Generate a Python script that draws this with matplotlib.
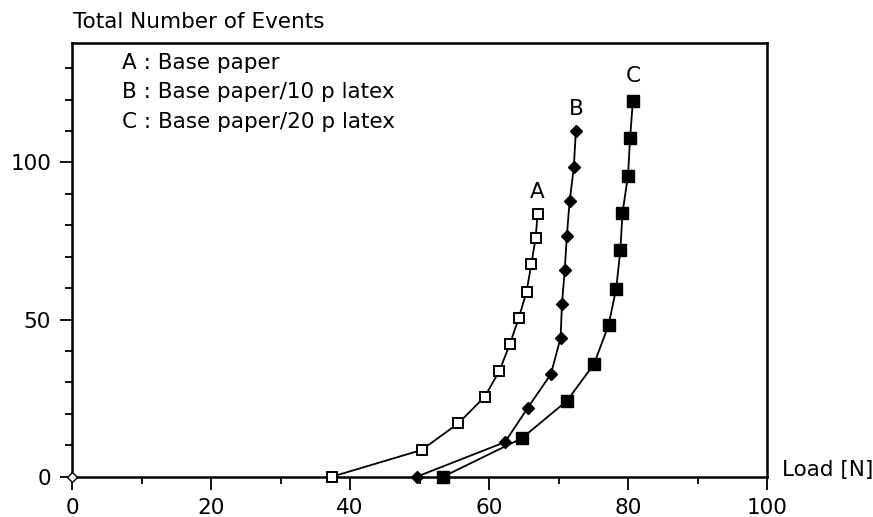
import matplotlib
matplotlib.use("Agg")
import matplotlib.pyplot as plt
from matplotlib.ticker import MultipleLocator

# values
load_a = [37.4, 50.3, 55.6, 59.4, 61.5, 63.0, 64.3, 65.4, 66.1, 66.7, 67.0]
events_a = [0, 8.5, 17.0, 25.5, 33.7, 42.2, 50.6, 58.9, 67.7, 75.9, 83.6]

load_b = [49.6, 62.3, 65.6, 68.9, 70.3, 70.5, 70.9, 71.2, 71.6, 72.2, 72.5]
events_b = [0, 11.0, 22.0, 32.6, 44.2, 55.0, 65.8, 76.6, 87.6, 98.4, 110.0]

load_c = [53.4, 64.7, 71.2, 75.1, 77.2, 78.3, 78.9, 79.2, 80.0, 80.3, 80.7]
events_c = [0, 12.2, 24.1, 35.8, 48.2, 59.8, 72.0, 83.8, 95.8, 107.8, 119.4]

legend_lines = ["A : Base paper", "B : Base paper/10 p latex", "C : Base paper/20 p latex"]

plt.rcParams['font.family'] = ['DejaVu Sans']
fs = 15.5

fig = plt.figure(figsize=(8.73, 5.17), dpi=100)
ax = fig.add_axes([72 / 873, 1 - 476.7 / 517, (767 - 72) / 873, (476.7 - 43) / 517])

ax.plot(load_a, events_a, color='black', lw=1.3, marker='s', ms=7.2,
        mfc='white', mec='black', mew=1.4, clip_on=False, zorder=3)
ax.plot(load_b, events_b, color='black', lw=1.3, marker='D', ms=6.5,
        mfc='black', mec='black', clip_on=False, zorder=3)
ax.plot(load_c, events_c, color='black', lw=1.3, marker='s', ms=9,
        mfc='black', mec='black', clip_on=False, zorder=3)
# small open marker at the origin
ax.plot([0], [0], marker='D', ms=5, mfc='white', mec='black', mew=1,
        clip_on=False, zorder=4)

ax.text(load_a[-1], events_a[-1] + 7, "A", ha='center', va='center', fontsize=fs)
ax.text(load_b[-1], events_b[-1] + 7, "B", ha='center', va='center', fontsize=fs)
ax.text(load_c[-1], events_c[-1] + 8, "C", ha='center', va='center', fontsize=fs)

ax.set_xlim(0, 100)
ax.set_ylim(0, 138)
ax.xaxis.set_major_locator(MultipleLocator(20))
ax.xaxis.set_minor_locator(MultipleLocator(10))
ax.yaxis.set_major_locator(MultipleLocator(50))
ax.yaxis.set_minor_locator(MultipleLocator(10))
ax.tick_params(which='major', direction='out', length=9, width=1.3, labelsize=fs, pad=6)
ax.tick_params(which='minor', direction='out', length=5, width=1.3)
for s in ax.spines.values():
    s.set_linewidth(1.8)

fig.text(73 / 873, 1 - 22 / 517, "Total Number of Events", ha='left', va='center', fontsize=fs)
fig.text(782 / 873, 1 - 470 / 517, "Load [N]", ha='left', va='center', fontsize=fs)

for i, t in enumerate(legend_lines):
    fig.text(122 / 873, 1 - (63 + 29.5 * i) / 517, t, ha='left', va='center', fontsize=fs)

fig.savefig("out.png", dpi=100)
